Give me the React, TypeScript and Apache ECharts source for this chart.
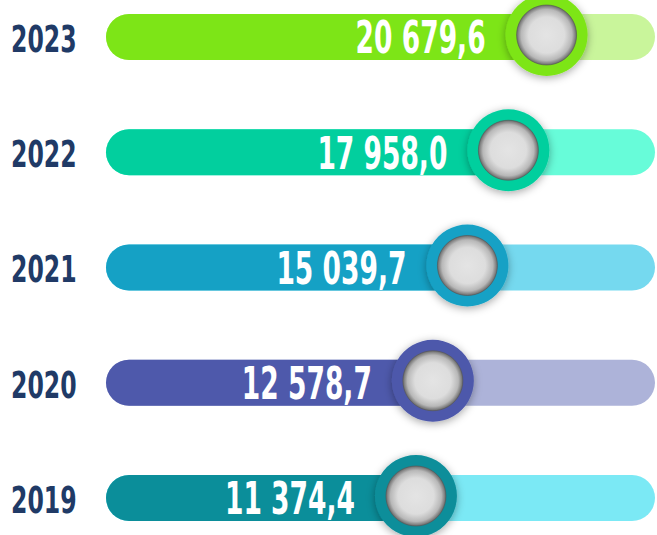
import { useEffect, useRef } from 'react';
import * as echarts from 'echarts';

const years = ['2023', '2022', '2021', '2020', '2019'];
const values = [20679.6, 17958.0, 15039.7, 12578.7, 11374.4];
const valueLabels = ['20 679,6', '17 958,0', '15 039,7', '12 578,7', '11 374,4'];
const fillColors = ['#7de517', '#02cf9e', '#15a1c5', '#4e59ab', '#0b8e9a'];
const trackColors = ['#c9f59b', '#67fcd9', '#75d9ef', '#adb3d9', '#7be9f5'];
const AXIS_MIN = -10700;
const AXIS_MAX = 28400;

const FONT = "'DejaVu Sans Condensed', 'Liberation Sans Narrow', 'Liberation Sans', sans-serif";

export default function App() {
  const ref = useRef<HTMLDivElement>(null);
  useEffect(() => {
    if (!ref.current) return;
    const chart = echarts.init(ref.current, undefined, { renderer: 'svg' });
    const innerFill = new echarts.graphic.RadialGradient(0.5, 0.5, 0.5, [
      { offset: 0, color: '#e4e4e4' },
      { offset: 0.6, color: '#dddddd' },
      { offset: 0.85, color: '#b8b8b8' },
      { offset: 1, color: '#6a6a6a' },
    ]);
    chart.setOption({
      animation: false,
      backgroundColor: '#ffffff',
      grid: { left: 106, right: 2, top: 37, bottom: 37, containLabel: false },
      xAxis: {
        type: 'value',
        min: AXIS_MIN,
        max: AXIS_MAX,
        show: false,
      },
      yAxis: {
        type: 'category',
        data: years,
        inverse: true,
        boundaryGap: false,
        show: false,
      },
      series: [
        {
          type: 'custom',
          clip: false,
          encode: { x: 0, y: 1 },
          data: values.map((v, i) => [v, i]),
          renderItem: (params: any, api: any) => {
            const v = api.value(0);
            const idx = api.value(1);
            const start = api.coord([AXIS_MIN, idx]);
            const end = api.coord([AXIS_MAX, idx]);
            const p = api.coord([v, idx]);
            const h = 46;
            const i = params.dataIndex;
            return {
              type: 'group',
              children: [
                {
                  type: 'text',
                  x: start[0] - 95,
                  y: p[1] + 2,
                  scaleX: 0.69,
                  style: {
                    text: years[i],
                    x: 0,
                    y: 0,
                    align: 'left',
                    verticalAlign: 'middle',
                    fill: '#203a66',
                    font: `bold 38px ${FONT}`,
                  },
                },
                {
                  type: 'rect',
                  shape: { x: start[0], y: p[1] - h / 2, width: end[0] - start[0], height: h, r: h / 2 },
                  style: { fill: trackColors[i] },
                },
                {
                  type: 'rect',
                  shape: { x: start[0], y: p[1] - h / 2, width: p[0] - start[0], height: h, r: [h / 2, 0, 0, h / 2] },
                  style: { fill: fillColors[i] },
                },
                {
                  type: 'text',
                  x: p[0] - 61,
                  y: p[1] + 1,
                  scaleX: 0.67,
                  style: {
                    text: valueLabels[i],
                    x: 0,
                    y: 0,
                    align: 'right',
                    verticalAlign: 'middle',
                    fill: '#ffffff',
                    font: `bold 44px ${FONT}`,
                  },
                },
                {
                  type: 'circle',
                  shape: { cx: p[0], cy: p[1] - 2, r: 41 },
                  style: {
                    fill: fillColors[i],
                    shadowBlur: 8,
                    shadowColor: 'rgba(0,0,0,0.35)',
                    shadowOffsetY: 2,
                  },
                },
                {
                  type: 'circle',
                  shape: { cx: p[0], cy: p[1] - 2, r: 30 },
                  style: { fill: innerFill, stroke: '#555555', lineWidth: 0.6 },
                },
              ],
            };
          },
        },
      ],
    });
    return () => chart.dispose();
  }, []);
  return <div ref={ref} style={{ position: 'fixed', left: 0, top: 0, width: 657, height: 535 }} />;
}
